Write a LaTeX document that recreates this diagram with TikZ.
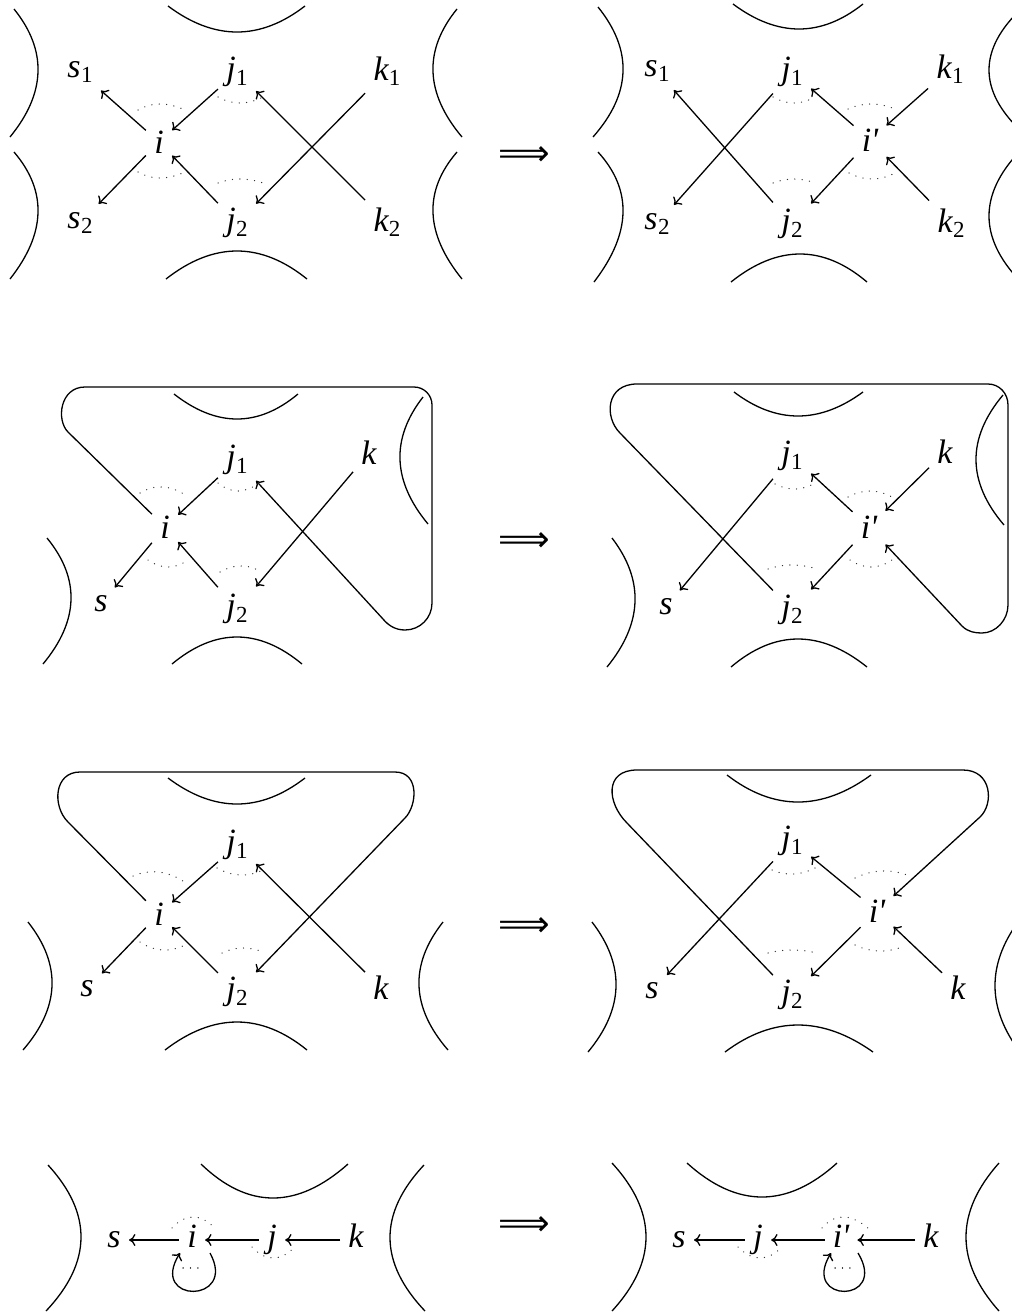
\documentclass[tikz,border=0pt]{standalone}
\usepackage{fontspec}
\setmainfont{Liberation Serif}
\newfontfamily\djv{DejaVu Sans}
\usetikzlibrary{calc,arrows.meta}
\newcommand\sub[2]{#1\kern0.2pt\raisebox{-2.7pt}{\fontsize{11.5}{11.5}\selectfont\upshape #2}}
\newcommand\ip{i\kern-0.3pt\textquotesingle}
\newcommand\parc[3]{\draw[arcl] (#1) .. controls ($1.3333*(#2)-0.3333*(#3)$) and ($1.3333*(#2)-0.3333*(#1)$) .. (#3);}
\newcommand\darc[3]{\draw[dotarc] (#1) .. controls ($1.3333*(#2)-0.3333*(#3)$) and ($1.3333*(#2)-0.3333*(#1)$) .. (#3);}
\begin{document}
\begin{tikzpicture}[x=0.5pt,y=-0.5pt,
  arcl/.style={line width=0.65pt},
  arr/.style={line width=0.65pt,-{To[length=3.2pt,width=6pt]}},
  dotarc/.style={line width=0.6pt,dash pattern=on 0.1pt off 3.6pt,line cap=round,black!80},
  lab/.style={rectangle,inner sep=4pt,font=\fontsize{17}{17}\selectfont\itshape},
  labh/.style={lab,text height=11pt,text depth=3.5pt},
  imp/.style={inner sep=0pt,font=\fontsize{18}{18}\selectfont\djv}]
\useasboundingbox (0,0) rectangle (1012,1312);
\clip (0,0) rectangle (1012,1312);

% ---------------- Panel 1 left ----------------
\parc{14,9}{38,72}{10,137}
\parc{14,152}{38,213}{10,279}
\parc{168,6}{237,32}{305,6}
\parc{166,279}{237,251}{307,279}
\parc{457,9}{433,72}{462,137}
\parc{457,152}{433,213}{462,279}
\node[lab] (a1s1) at (80,72) {\sub{s}{1}};
\node[lab] (a1j1) at (237,72) {\sub{j}{1}};
\node[lab] (a1k1) at (387,71) {\sub{k}{1}};
\node[lab] (a1i) at (159,142) {i};
\node[lab] (a1s2) at (80,223) {\sub{s}{2}};
\node[lab] (a1j2) at (237,223) {\sub{j}{2}};
\node[lab] (a1k2) at (387,222) {\sub{k}{2}};
\draw[arr] (a1i) -- (a1s1);
\draw[arr] (a1j1) -- (a1i);
\draw[arr] (a1k2) -- (a1j1);
\draw[arr] (a1k1) -- (a1j2);
\draw[arr] (a1i) -- (a1s2);
\draw[arr] (a1j2) -- (a1i);
\darc{138,110}{160,104}{185,110}
\darc{218,97}{240,103}{263,97}
\darc{138,172}{160,178}{185,172}
\darc{218,183}{240,179}{263,183}
\node[imp] (t1) at (524,156) {⟹};

% ---------------- Panel 1 right ----------------
\parc{598,7}{623,72}{593,137}
\parc{598,152}{623,213}{594,282}
\parc{733,4}{799,29}{863,4}
\parc{731,282}{800,254}{867,282}
\parc{1022,8}{989,70}{1022,132}
\parc{1019,152}{989,216}{1019,280}
\node[lab] (b1s1) at (657,71) {\sub{s}{1}};
\node[lab] (b1j1) at (792,72) {\sub{j}{1}};
\node[lab] (b1k1) at (950,69) {\sub{k}{1}};
\node[lab] (b1i) at (870,140) {\ip};
\node[lab] (b1s2) at (657,224) {\sub{s}{2}};
\node[lab] (b1j2) at (792,224) {\sub{j}{2}};
\node[lab] (b1k2) at (951,223) {\sub{k}{2}};
\draw[arr] (b1j2) -- (b1s1);
\draw[arr] (b1j1) -- (b1s2);
\draw[arr] (b1i) -- (b1j1);
\draw[arr] (b1k1) -- (b1i);
\draw[arr] (b1i) -- (b1j2);
\draw[arr] (b1k2) -- (b1i);
\darc{773,97}{794,103}{815,97}
\darc{773,183}{794,179}{815,183}
\darc{848,109}{871,104}{895,109}
\darc{849,173}{872,179}{895,173}

% ---------------- Panel 2 left ----------------
\parc{174,394}{237,419}{298,394}
\parc{172,664}{237,637}{302,664}
\parc{47,538}{71,600}{43,664}
\parc{423,397}{400,460}{428,524}
\node[lab] (a2j1) at (237,460) {\sub{j}{1}};
\node[lab] (a2k) at (369,453) {k};
\node[lab] (a2i) at (165,527) {i};
\node[lab] (a2s) at (101,604) {s};
\node[lab] (a2j2) at (237,609) {\sub{j}{2}};
\draw[arr] (a2j1) -- (a2i);
\draw[arr] (a2i) -- (a2s);
\draw[arr] (a2j2) -- (a2i);
\draw[arr] (a2k) -- (a2j2);
\draw[arr] (a2i) -- (68,432) .. controls (56,420) and (60,387) .. (85,387)
  -- (414,387) .. controls (424,387) and (432,395) .. (432,405)
  -- (432,603) .. controls (432,618) and (420,630) .. (405,630)
  .. controls (395,630) and (388,625) .. (383,619) -- (a2j1);
\darc{140,493}{163,487}{187,496}
\darc{218,483}{238,491}{259,483}
\darc{148,560}{168,567}{188,560}
\darc{220,572}{239,566}{258,570}
\node[imp] (t2) at (524,542) {⟹};

% ---------------- Panel 2 right ----------------
\parc{734,392}{798,416}{863,392}
\parc{731,667}{798,639}{867,667}
\parc{612,538}{635,602}{607,667}
\parc{1003,395}{976,460}{1004,525}
\node[lab] (b2j1) at (792,456) {\sub{j}{1}};
\node[lab] (b2k) at (945,452) {k};
\node[lab] (b2i) at (869,527) {\ip};
\node[lab] (b2s) at (666,607) {s};
\node[lab] (b2j2) at (792,610) {\sub{j}{2}};
\draw[arr] (b2j1) -- (b2s);
\draw[arr] (b2i) -- (b2j1);
\draw[arr] (b2k) -- (b2i);
\draw[arr] (b2i) -- (b2j2);
\draw[arr] (b2j2) -- (620,433) .. controls (604,417) and (606,384) .. (637,384)
  -- (988,384) .. controls (999,384) and (1008,393) .. (1008,405)
  -- (1008,605) .. controls (1008,620) and (996,633) .. (982,633)
  .. controls (975,633) and (968,632) .. (962,626) -- (b2i);
\darc{775,484}{796,489}{817,482}
\darc{848,497}{870,491}{892,497}
\darc{850,560}{871,567}{892,560}
\darc{768,569}{792,565}{817,569}

% ---------------- Panel 3 left ----------------
\parc{168,778}{237,804}{305,778}
\parc{165,1050}{237,1022}{307,1050}
\parc{28,922}{52,986}{23,1050}
\parc{443,922}{419,986}{448,1050}
\node[lab] (a3j1) at (237,845) {\sub{j}{1}};
\node[lab] (a3i) at (159,914) {i};
\node[lab] (a3s) at (87,989) {s};
\node[lab] (a3j2) at (237,992) {\sub{j}{2}};
\node[lab] (a3k) at (381,988) {k};
\draw[arr] (a3j1) -- (a3i);
\draw[arr] (a3i) -- (a3s);
\draw[arr] (a3j2) -- (a3i);
\draw[arr] (a3k) -- (a3j1);
\draw[arr] (a3i) -- (68,822) .. controls (52,806) and (54,772) .. (80,772)
  -- (395,772) .. controls (420,772) and (417,806) .. (405,818) -- (a3j2);
\darc{133,876}{158,872}{183,881}
\darc{217,868}{240,875}{263,870}
\darc{140,942}{162,950}{185,945}
\darc{222,953}{242,948}{263,952}
\node[imp] (t3) at (524,927) {⟹};

% ---------------- Panel 3 right ----------------
\parc{727,775}{798,802}{871,775}
\parc{725,1052}{798,1025}{873,1052}
\parc{592,922}{616,987}{588,1052}
\parc{1018,922}{995,987}{1020,1052}
\node[lab] (b3j1) at (792,841) {\sub{j}{1}};
\node[lab] (b3i) at (877,911) {\ip};
\node[lab] (b3s) at (652,991) {s};
\node[lab] (b3j2) at (792,995) {\sub{j}{2}};
\node[lab] (b3k) at (958,988) {k};
\draw[arr] (b3j1) -- (b3s);
\draw[arr] (b3i) -- (b3j1);
\draw[arr] (b3i) -- (b3j2);
\draw[arr] (b3k) -- (b3i);
\draw[arr] (b3j2) -- (627,823) .. controls (607,803) and (604,770) .. (637,770)
  -- (963,770) .. controls (992,770) and (994,804) .. (980,817) -- (b3i);
\darc{772,870}{794,874}{817,867}
\darc{855,878}{881,871}{907,875}
\darc{855,945}{878,951}{902,947}
\darc{768,953}{792,950}{817,953}

% ---------------- Panel 4 left ----------------
\parc{48,1165}{81,1238}{46,1311}
\parc{201,1164}{273,1198}{348,1164}
\parc{424,1165}{390,1238}{425,1311}
\node[labh] (a4s) at (114,1240) {s};
\node[labh] (a4i) at (192,1240) {i};
\node[labh] (a4j) at (272,1240) {j};
\node[labh] (a4k) at (356,1240) {k};
\draw[arr] (a4i) -- (a4s);
\draw[arr] (a4j) -- (a4i);
\draw[arr] (a4k) -- (a4j);
\draw[arr] ($(a4i)+(18,13)$) .. controls ($(a4i)+(46,64)$) and ($(a4i)+(-44,64)$) .. ($(a4i)+(-12,13)$);
\darc{172,1228}{193,1217}{215,1228}
\darc{252,1247}{273,1258}{295,1247}
\draw[dotarc] (183,1268) -- (205,1268);
\node[imp] (t4) at (524,1226) {⟹};

% ---------------- Panel 4 right ----------------
\parc{612,1163}{646,1237}{612,1311}
\parc{687,1163}{762,1197}{837,1163}
\parc{999,1163}{966,1237}{999,1311}
\node[labh] (b4s) at (679,1240) {s};
\node[labh] (b4j) at (758,1240) {j};
\node[labh] (b4i) at (841,1240) {\ip};
\node[labh] (b4k) at (931,1240) {k};
\draw[arr] (b4j) -- (b4s);
\draw[arr] (b4i) -- (b4j);
\draw[arr] (b4k) -- (b4i);
\draw[arr] ($(b4i)+(17,13)$) .. controls ($(b4i)+(48,64)$) and ($(b4i)+(-41,64)$) .. ($(b4i)+(-10,13)$);
\darc{822,1228}{843,1217}{868,1228}
\darc{738,1247}{760,1258}{782,1247}
\draw[dotarc] (835,1268) -- (857,1268);
\end{tikzpicture}
\end{document}
